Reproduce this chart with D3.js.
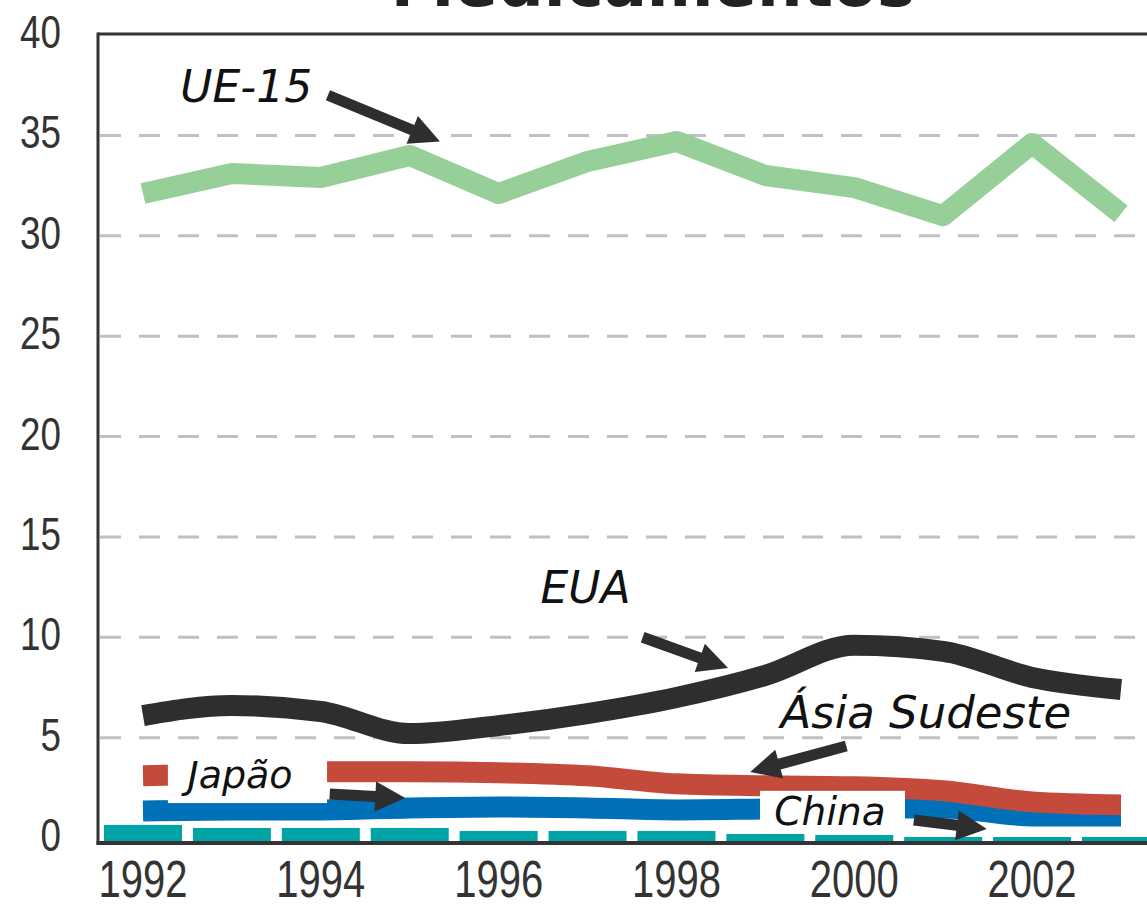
<!DOCTYPE html>
<html>
<head>
<meta charset="utf-8">
<script src="https://cdn.jsdelivr.net/npm/d3@7"></script>
<style>
  body { margin: 0; background: #fff; }
  svg { display: block; }
</style>
</head>
<body>
<div id="chart"></div>
<script>
// data
var years = [1992, 1993, 1994, 1995, 1996, 1997, 1998, 1999, 2000, 2001, 2002, 2003];
var ue15 = [32.1, 33.1, 32.9, 34.0, 32.1, 33.7, 34.7, 33.0, 32.4, 31.0, 34.6, 31.1];
var eua = [6.1, 6.6, 6.3, 5.2, 5.6, 6.2, 7.0, 8.1, 9.6, 9.3, 8.0, 7.4];
var sudeste = [3.1, 3.2, 3.3, 3.3, 3.25, 3.1, 2.7, 2.6, 2.55, 2.35, 1.8, 1.65];
var japao = [1.35, 1.4, 1.4, 1.5, 1.55, 1.5, 1.4, 1.45, 1.5, 1.5, 1.1, 1.1];
var china = [0.9, 0.75, 0.75, 0.75, 0.6, 0.6, 0.6, 0.45, 0.4, 0.3, 0.3, 0.3];
var yTicks = [0, 5, 10, 15, 20, 25, 30, 35, 40];
var xTicks = [1992, 1994, 1996, 1998, 2000, 2002];

var svgWidth = 1147;
var svgHeight = 909;

var svg = d3.select("#chart")
    .append("svg")
    .attr("width", svgWidth)
    .attr("height", svgHeight);

var xScale = d3.scaleLinear().domain([1992, 2003]).range([143, 1121]);
var yScale = d3.scaleLinear().domain([0, 40]).range([838, 35]);
var axisOffset = 5; // bottom axis sits a little under the zero line

// title, cut off by the top edge as in the original
svg.append("text")
    .attr("x", 653)
    .attr("y", 6)
    .attr("text-anchor", "middle")
    .attr("font-family", "DejaVu Sans")
    .attr("font-weight", "bold")
    .attr("font-size", 64)
    .attr("fill", "#222")
    .text("Medicamentos");

// dashed gridlines
svg.append("g")
    .selectAll("line")
    .data(yTicks.filter(d => d > 0 && d < 40))
    .enter()
    .append("line")
    .attr("x1", 100)
    .attr("x2", svgWidth)
    .attr("y1", d => yScale(d))
    .attr("y2", d => yScale(d))
    .attr("stroke", "#c0c0c0")
    .attr("stroke-width", 3)
    .attr("stroke-dasharray", "21,18");

// tick labels use a squeezed sans to get the tall narrow digits
var tickFont = "Liberation Sans, Arial, sans-serif";

svg.append("g")
    .selectAll("text")
    .data(yTicks)
    .enter()
    .append("text")
    .attr("transform", d => `translate(61, ${yScale(d) + 13}) scale(0.8, 1)`)
    .attr("text-anchor", "end")
    .attr("font-family", tickFont)
    .attr("font-size", 46)
    .attr("fill", "#333")
    .text(d => d);

svg.append("g")
    .selectAll("text")
    .data(xTicks)
    .enter()
    .append("text")
    .attr("transform", d => `translate(${xScale(d)}, 897) scale(0.8, 1.04)`)
    .attr("text-anchor", "middle")
    .attr("font-family", tickFont)
    .attr("font-size", 50)
    .attr("fill", "#333")
    .text(d => d);

// China: teal blocks along the bottom
svg.append("g")
    .selectAll("rect")
    .data(years.map((y, i) => ({year: y, value: china[i]})))
    .enter()
    .append("rect")
    .attr("x", d => xScale(d.year) - 39)
    .attr("width", 78)
    .attr("y", d => yScale(d.value) + axisOffset)
    .attr("height", d => yScale(0) - yScale(d.value))
    .attr("fill", "#00a3a6");

function seriesLine(values, color, curve) {
    var line = d3.line()
        .x((d, i) => xScale(years[i]))
        .y(d => yScale(d))
        .curve(curve);
    svg.append("path")
        .datum(values)
        .attr("d", line)
        .attr("fill", "none")
        .attr("stroke", color)
        .attr("stroke-width", 21)
        .attr("stroke-linejoin", "round")
        .attr("stroke-linecap", "butt");
}

seriesLine(japao, "#0070b8", d3.curveMonotoneX);
seriesLine(sudeste, "#c44b3c", d3.curveMonotoneX);
seriesLine(eua, "#2e2d2f", d3.curveMonotoneX);
seriesLine(ue15, "#96cf98", d3.curveLinear);

// white boxes behind the small labels
var boxes = [
    {x0: 1992.28, x1: 1994.07, y0: 1.74, y1: 4.3},
    {x0: 1998.94, x1: 2000.57, y0: 0.2, y1: 2.35}
];
svg.append("g")
    .selectAll("rect")
    .data(boxes)
    .enter()
    .append("rect")
    .attr("x", d => xScale(d.x0))
    .attr("width", d => xScale(d.x1) - xScale(d.x0))
    .attr("y", d => yScale(d.y1))
    .attr("height", d => yScale(d.y0) - yScale(d.y1))
    .attr("fill", "#fff");

// series labels
var labels = [
    {text: "UE-15", year: 1992.42, value: 36.65, size: 44},
    {text: "EUA", year: 1996.47, value: 11.7, size: 44},
    {text: "Ásia Sudeste", year: 1999.17, value: 5.48, size: 45},
    {text: "Japão", year: 1992.5, value: 2.5, size: 38},
    {text: "China", year: 1999.1, value: 0.65, size: 39}
];
svg.append("g")
    .selectAll("text")
    .data(labels)
    .enter()
    .append("text")
    .attr("x", d => xScale(d.year))
    .attr("y", d => yScale(d.value))
    .attr("font-family", "DejaVu Sans")
    .attr("font-style", "italic")
    .attr("font-size", d => d.size)
    .attr("fill", "#111")
    .text(d => d.text);

// arrows pointing at the series
var arrows = [
    {from: [1994.08, 37.0], to: [1995.34, 34.7]},
    {from: [1997.62, 10.0], to: [1998.58, 8.47]},
    {from: [1999.91, 4.58], to: [1998.83, 3.29]},
    {from: [1994.10, 2.19], to: [1994.95, 1.99]},
    {from: [2000.67, 0.9], to: [2001.49, 0.45]}
];

function arrowPath(d) {
    var x1 = xScale(d.from[0]), y1 = yScale(d.from[1]);
    var x2 = xScale(d.to[0]), y2 = yScale(d.to[1]);
    var dx = x2 - x1, dy = y2 - y1;
    var len = Math.sqrt(dx * dx + dy * dy);
    var ux = dx / len, uy = dy / len;
    var px = -uy, py = ux;
    var shaft = 5.5, head = 15, headLen = 30;
    var bx = x2 - ux * headLen, by = y2 - uy * headLen;
    var pts = [
        [x1 + px * shaft, y1 + py * shaft],
        [bx + px * shaft, by + py * shaft],
        [bx + px * head, by + py * head],
        [x2, y2],
        [bx - px * head, by - py * head],
        [bx - px * shaft, by - py * shaft],
        [x1 - px * shaft, y1 - py * shaft]
    ];
    return "M" + pts.map(p => p.join(",")).join("L") + "Z";
}

svg.append("g")
    .selectAll("path")
    .data(arrows)
    .enter()
    .append("path")
    .attr("d", arrowPath)
    .attr("fill", "#2e2d2f");

// frame: top, left and bottom axis lines
svg.append("line")
    .attr("x1", 98).attr("x2", svgWidth)
    .attr("y1", yScale(40) - 1).attr("y2", yScale(40) - 1)
    .attr("stroke", "#333").attr("stroke-width", 3);
svg.append("line")
    .attr("x1", 98).attr("x2", 98)
    .attr("y1", yScale(40) - 2.5).attr("y2", yScale(0) + axisOffset + 2)
    .attr("stroke", "#333").attr("stroke-width", 3);
svg.append("line")
    .attr("x1", 96.5).attr("x2", svgWidth)
    .attr("y1", yScale(0) + axisOffset).attr("y2", yScale(0) + axisOffset)
    .attr("stroke", "#333").attr("stroke-width", 4);
</script>
</body>
</html>
